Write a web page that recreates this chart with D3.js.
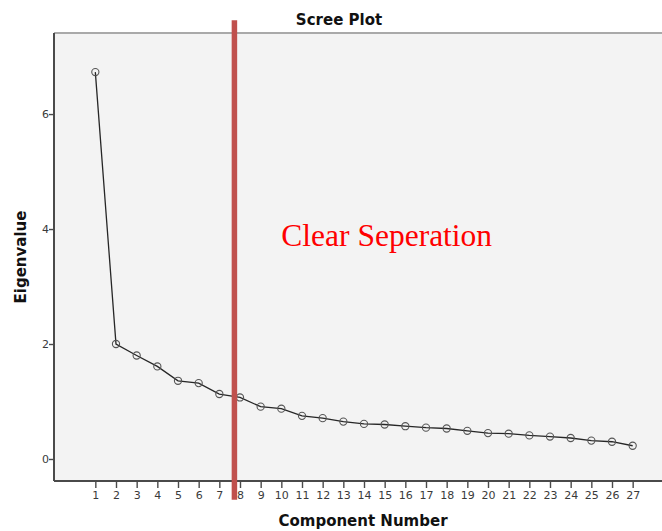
<!DOCTYPE html>
<html>
<head>
<meta charset="utf-8">
<script src="https://cdn.jsdelivr.net/npm/d3@7"></script>
<style>
  html, body { margin: 0; padding: 0; background: #fff; }
  svg { display: block; }
</style>
</head>
<body>
<div id="grafico"></div>
<script>
const width = 662
const height = 531

// data
const components = d3.range(1, 28)
const eigenvalues = [6.73, 2.0, 1.80, 1.61, 1.36, 1.32, 1.13, 1.07, 0.91, 0.875,
                     0.75, 0.71, 0.65, 0.61, 0.60, 0.57, 0.545, 0.53, 0.49, 0.45,
                     0.44, 0.41, 0.39, 0.365, 0.32, 0.30, 0.23]
const yTicks = [0, 2, 4, 6]
const cutoff = 7.73
const noteText = 'Clear Seperation'

const plot = {left: 54, top: 33, right: 674, bottom: 481}

const x = d3.scaleLinear().domain([-1, 29]).range([plot.left, plot.right])
const y = d3.scaleLinear().domain([-0.383, 7.41]).range([plot.bottom, plot.top])

const svg = d3.select('#grafico').append('svg')
              .attr('width', width)
              .attr('height', height)

// plot area
svg.append('rect')
   .attr('x', plot.left).attr('y', plot.top)
   .attr('width', plot.right - plot.left).attr('height', plot.bottom - plot.top)
   .style('fill', '#f3f3f3')
   .style('stroke', '#fff').style('stroke-width', 2)

// frame top
svg.append('line')
   .attr('x1', plot.left).attr('x2', plot.right + 20)
   .attr('y1', plot.top).attr('y2', plot.top)
   .style('stroke', '#8c8c8c').style('stroke-width', 1.6)

// axes
const xAxis = d3.axisBottom(x).tickValues(components).tickSize(7).tickSizeOuter(0)
const yAxis = d3.axisLeft(y).tickValues(yTicks).tickSize(5).tickSizeOuter(0)

const gx = svg.append('g')
              .attr('transform', `translate(0, ${plot.bottom})`)
              .call(xAxis)
const gy = svg.append('g')
              .attr('transform', `translate(${plot.left}, 0)`)
              .call(yAxis)

gx.select('.domain').attr('d', `M${plot.left},0H${plot.right + 20}`)
gy.select('.domain').attr('d', `M0,${plot.top}V${plot.bottom}`)

svg.selectAll('.domain').style('stroke', '#4a4a4a').style('stroke-width', 2)
svg.selectAll('.tick line').style('stroke', '#4a4a4a').style('stroke-width', 1.4)
svg.selectAll('.tick text')
   .style('font-family', 'DejaVu Sans')
   .style('font-size', '11px')
   .style('fill', '#3a3a3a')
gx.selectAll('.tick text').attr('y', 10)
gy.selectAll('.tick text').attr('x', -5)

// scree line
const line = d3.line()
               .x((d, i) => x(components[i]))
               .y(d => y(d))

svg.append('path')
   .datum(eigenvalues)
   .attr('d', line)
   .style('fill', 'none')
   .style('stroke', '#262626')
   .style('stroke-width', 1.3)

svg.selectAll('circle.pt')
   .data(eigenvalues)
   .enter()
   .append('circle')
   .attr('class', 'pt')
   .attr('cx', (d, i) => x(components[i]))
   .attr('cy', d => y(d))
   .attr('r', 3.6)
   .style('fill', 'none')
   .style('stroke', '#555')
   .style('stroke-width', 1.1)

// titles
svg.append('text')
   .attr('x', 339).attr('y', 25)
   .attr('text-anchor', 'middle')
   .style('font-family', 'DejaVu Sans')
   .style('font-weight', 'bold')
   .style('font-size', '15px')
   .style('fill', '#111')
   .text('Scree Plot')

svg.append('text')
   .attr('x', 363).attr('y', 526)
   .attr('text-anchor', 'middle')
   .style('font-family', 'DejaVu Sans')
   .style('font-weight', 'bold')
   .style('font-size', '15px')
   .style('fill', '#111')
   .text('Component Number')

svg.append('text')
   .attr('transform', 'translate(26, 257) rotate(-90)')
   .attr('text-anchor', 'middle')
   .style('font-family', 'DejaVu Sans')
   .style('font-weight', 'bold')
   .style('font-size', '15px')
   .style('fill', '#111')
   .text('Eigenvalue')

// annotation
svg.append('line')
   .attr('x1', x(cutoff)).attr('x2', x(cutoff))
   .attr('y1', y(7.63)).attr('y2', y(-0.71))
   .style('stroke', '#c0504d')
   .style('stroke-width', 5.5)

svg.append('text')
   .attr('x', x(10)).attr('y', y(3.71))
   .style('font-family', 'Liberation Serif')
   .style('font-size', '31.5px')
   .style('fill', '#ff0000')
   .text(noteText)
</script>
</body>
</html>
